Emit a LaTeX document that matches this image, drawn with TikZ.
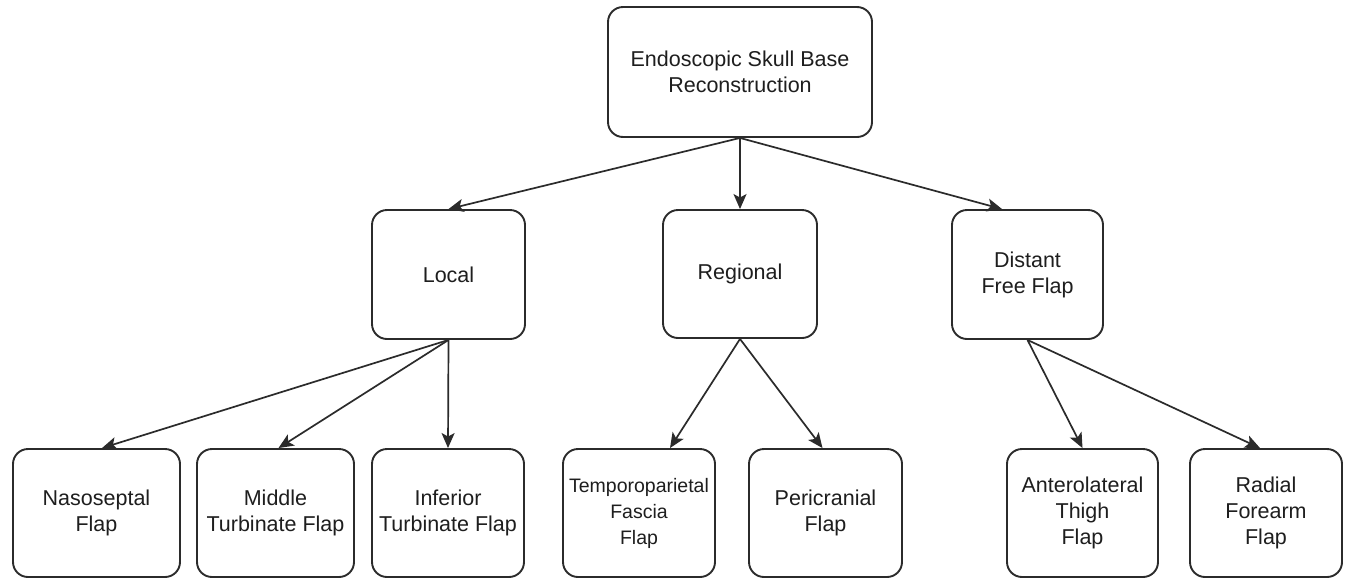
\documentclass[tikz,border=0pt]{standalone}
\usepackage{fontspec}
\setmainfont{Liberation Sans}
\usetikzlibrary{arrows.meta}
\definecolor{linegray}{HTML}{2B2B2B}
\definecolor{textgray}{HTML}{1E1E1E}
\tikzset{
  box/.style={draw=linegray, line width=1.9pt, rounded corners=15pt, fill=white,
    inner sep=0pt, align=center, text=textgray,
    font=\fontsize{21.5}{26}\selectfont},
  conn/.style={draw=linegray, line width=1.7pt, -{Stealth[length=15pt,width=13pt,inset=3.5pt]}}
}
\begin{document}
\begin{tikzpicture}[x=1pt,y=-1pt]
\useasboundingbox[fill=white] (0,0) rectangle (1348,579);
\node[box, minimum width=264pt, minimum height=130pt] (root) at (740,72) {Endoscopic Skull Base\\Reconstruction};
\node[box, minimum width=153pt, minimum height=129pt] (local) at (448.5,274.5) {Local};
\node[box, minimum width=154pt, minimum height=128pt] (regional) at (740,274) {Regional};
\node[box, minimum width=151pt, minimum height=129pt] (distant) at (1027.5,274.5) {Distant\\Free Flap};
\node[box, minimum width=167pt, minimum height=128pt] (naso) at (96.5,513) {Nasoseptal\\Flap};
\node[box, minimum width=157pt, minimum height=128pt] (middle) at (275.5,513) {Middle\\Turbinate Flap};
\node[box, minimum width=152pt, minimum height=128pt] (inferior) at (448,513) {Inferior\\Turbinate Flap};
\node[box, minimum width=152pt, minimum height=128pt, font=\fontsize{19.5}{26}\selectfont] (temporo) at (639,513) {Temporoparietal\\Fascia\\Flap};
\node[box, minimum width=153pt, minimum height=128pt] (peri) at (825.5,513) {Pericranial\\Flap};
\node[box, minimum width=151pt, minimum height=128pt] (antero) at (1082.5,513) {Anterolateral\\Thigh\\Flap};
\node[box, minimum width=152pt, minimum height=128pt] (radial) at (1266,513) {Radial\\Forearm\\Flap};

\draw[conn] (root.south) -- (local.north);
\draw[conn] (root.south) -- (regional.north);
\draw[conn] (root.south) -- ([xshift=51pt]distant.north west);
\draw[conn] (local.south) -- ([xshift=5.5pt]naso.north);
\draw[conn] (local.south) -- ([xshift=3pt]middle.north);
\draw[conn] (local.south) -- (inferior.north);
\draw[conn] (regional.south) -- ([xshift=31pt]temporo.north);
\draw[conn] (regional.south) -- ([xshift=-3pt]peri.north);
\draw[conn] (distant.south) -- (antero.north);
\draw[conn] (distant.south) -- ([xshift=-6pt]radial.north);
\end{tikzpicture}
\end{document}
